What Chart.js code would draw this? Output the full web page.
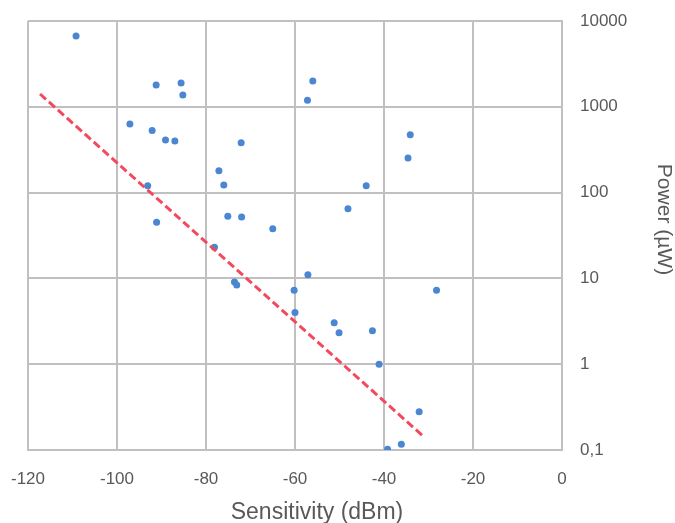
<!DOCTYPE html>
<html>
<head>
<meta charset="utf-8">
<script src="https://cdn.jsdelivr.net/npm/chart.js@4/dist/chart.umd.min.js"></script>
<style>
  html, body { margin: 0; padding: 0; background: #ffffff; }
  #wrap { width: 675px; height: 523px; }
</style>
</head>
<body>
<div id="wrap"><canvas id="c" width="675" height="523"></canvas></div>
<script>
// Sensitivity (dBm)
const sensitivity = [-109.2, -91.2, -85.6, -85.2, -56.0, -57.2, -97.1, -92.1, -89.1, -87.0,
  -72.1, -77.1, -76.0, -93.1, -75.1, -72.0, -65.0, -91.1, -78.1, -48.1,
  -73.6, -73.1, -57.1, -60.2, -60.0, -51.2, -50.1, -42.6, -41.1, -28.2,
  -32.1, -36.1, -39.2, -34.1, -34.6, -44.0];
// Power (µW)
const power = [6700, 1800, 1900, 1370, 2000, 1190, 630, 530, 410, 400,
  380, 180, 123, 120, 53, 52, 38, 45, 23, 65,
  9.1, 8.4, 11, 7.3, 4.0, 3.05, 2.33, 2.45, 1.0, 7.3,
  0.28, 0.117, 0.102, 473, 253, 120];
// Trend line end points
const trendX = [-117.3, -31.0];
const trendY = [1410, 0.142];
// Axis ticks
const xTicks = [-120, -100, -80, -60, -40, -20, 0];
const yTickValues = [0.1, 1, 10, 100, 1000, 10000];
const yTickLabels = ['0,1', '1', '10', '100', '1000', '10000'];
const xTitle = 'Sensitivity (dBm)';
const yTitle = 'Power (µW)';

const points = sensitivity.map((x, i) => ({ x: x, y: power[i] }));
const trend = trendX.map((x, i) => ({ x: x, y: trendY[i] }));

const gridColor = '#c0c0c0';
const textColor = '#595959';
const fontFamily = "'Liberation Sans', Arial, sans-serif";

const axisTitles = {
  id: 'axisTitles',
  afterDraw(chart) {
    const ctx = chart.ctx;
    const a = chart.chartArea;
    ctx.save();
    ctx.fillStyle = textColor;
    ctx.textAlign = 'center';
    ctx.textBaseline = 'middle';
    ctx.font = "23px " + fontFamily;
    ctx.fillText(xTitle, (a.left + a.right) / 2 + 22, a.bottom + 63);
    ctx.translate(a.right + 102, (a.top + a.bottom) / 2 - 16);
    ctx.rotate(Math.PI / 2);
    ctx.font = "21px " + fontFamily;
    ctx.fillText(yTitle, 0, 0);
    ctx.restore();
  }
};

new Chart(document.getElementById('c'), {
  type: 'scatter',
  data: {
    datasets: [
      {
        label: 'Trend',
        type: 'line',
        data: trend,
        borderColor: '#f4485f',
        borderWidth: 3,
        borderDash: [8, 4],
        pointRadius: 0,
        fill: false,
        order: 0
      },
      {
        label: 'Devices',
        data: points,
        backgroundColor: '#4a86d2',
        borderColor: '#4a86d2',
        pointRadius: 3.5,
        pointHoverRadius: 3.5,
        borderWidth: 0,
        order: 1
      }
    ]
  },
  plugins: [axisTitles],
  options: {
    responsive: false,
    animation: false,
    layout: { padding: { left: 28, top: 21, right: 0, bottom: 0 } },
    plugins: { legend: { display: false }, tooltip: { enabled: false } },
    scales: {
      x: {
        type: 'linear',
        position: 'bottom',
        min: -120,
        max: 0,
        afterBuildTicks: (s) => { s.ticks = xTicks.map(v => ({ value: v })); },
        afterFit: (s) => { s.height = 73; s.paddingLeft = 0; s.paddingRight = 0; },
        grid: { color: gridColor, lineWidth: 2, drawTicks: false },
        border: { color: gridColor, width: 2 },
        ticks: { color: textColor, padding: 19, font: { family: fontFamily, size: 17 } },
        title: { display: false }
      },
      y: {
        type: 'logarithmic',
        position: 'right',
        min: 0.1,
        max: 10000,
        afterBuildTicks: (s) => { s.ticks = yTickValues.map(v => ({ value: v })); },
        afterFit: (s) => { s.width = 113; s.paddingTop = 0; s.paddingBottom = 0; },
        grid: { color: gridColor, lineWidth: 2, drawTicks: false },
        border: { color: gridColor, width: 2 },
        ticks: {
          color: textColor, padding: 18, font: { family: fontFamily, size: 17 },
          callback: (v) => { const i = yTickValues.indexOf(v); return i >= 0 ? yTickLabels[i] : ''; }
        },
        title: { display: false }
      }
    }
  }
});
</script>
</body>
</html>
